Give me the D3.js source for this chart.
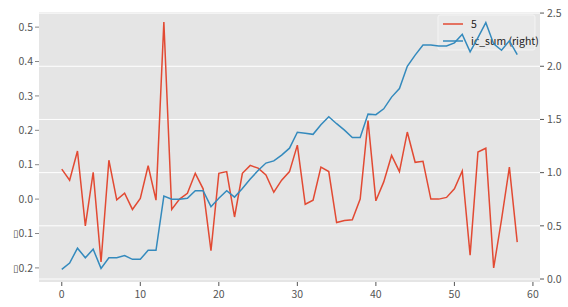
<!DOCTYPE html>
<html>
<head>
<meta charset="utf-8">
<script src="https://cdn.jsdelivr.net/npm/d3@7"></script>
<style>
  body { margin: 0; background: #fff; }
  text { font-family: "Noto Sans CJK SC", "Noto Sans", sans-serif; }
</style>
</head>
<body>
<svg id="chart" width="568" height="307"></svg>
<script>
// series "5" (left axis)
const series5 = [
  0.087, 0.055, 0.14, -0.078, 0.078, -0.183, 0.113, -0.002, 0.017, -0.03,
  0.002, 0.097, -0.003, 0.515, -0.03, 0.0, 0.017, 0.075, 0.03, -0.15,
  0.075, 0.08, -0.052, 0.075, 0.098, 0.09, 0.07, 0.02, 0.055, 0.08,
  0.157, -0.015, -0.003, 0.093, 0.08, -0.068, -0.062, -0.06, 0.0, 0.228,
  -0.005, 0.05, 0.127, 0.08, 0.195, 0.107, 0.11, 0.0, 0.0, 0.005,
  0.03, 0.082, -0.163, 0.137, 0.148, -0.2, -0.06, 0.093, -0.125
];
// ic_sum (right axis)
const icSum = [
  0.09, 0.15, 0.29, 0.20, 0.28, 0.10, 0.20, 0.20, 0.22, 0.185,
  0.185, 0.27, 0.27, 0.78, 0.75, 0.75, 0.76, 0.83, 0.83, 0.68,
  0.76, 0.83, 0.77, 0.85, 0.94, 1.02, 1.09, 1.11, 1.165, 1.23,
  1.38, 1.37, 1.36, 1.45, 1.525, 1.46, 1.40, 1.33, 1.33, 1.55,
  1.545, 1.60, 1.71, 1.79, 2.0, 2.105, 2.2, 2.2, 2.19, 2.19,
  2.22, 2.30, 2.135, 2.27, 2.41, 2.21, 2.15, 2.24, 2.11
];
const xTicks = [0, 10, 20, 30, 40, 50, 60];
const leftTicks = [-0.2, -0.1, 0.0, 0.1, 0.2, 0.3, 0.4, 0.5];
const rightTicks = [0.0, 0.5, 1.0, 1.5, 2.0, 2.5];
const legendNames = ["5", "ic_sum (right)"];

const m = { left: 39, right: 540, top: 12, bottom: 282 };
const red = "#E24A33", blue = "#348ABD";

const svg = d3.select("#chart");

const x = d3.scaleLinear().domain([-2.9, 60.9]).range([m.left, m.right]);
const yL = d3.scaleLinear().domain([-0.241, 0.544]).range([m.bottom, m.top]);
const yR = d3.scaleLinear().domain([-0.028, 2.51]).range([m.bottom, m.top]);

svg.append("rect")
  .attr("x", m.left).attr("y", m.top)
  .attr("width", m.right - m.left).attr("height", m.bottom - m.top)
  .attr("fill", "#E5E5E5");

// horizontal grid from the right axis
svg.append("g")
  .selectAll("line")
  .data(rightTicks)
  .join("line")
  .attr("x1", m.left).attr("x2", m.right)
  .attr("y1", d => yR(d)).attr("y2", d => yR(d))
  .attr("stroke", "#fff").attr("stroke-width", 1);

// left axis (missing minus glyph shows as a box in the original)
const gL = svg.append("g");
gL.selectAll("line")
  .data(leftTicks)
  .join("line")
  .attr("x1", m.left - 4).attr("x2", m.left)
  .attr("y1", d => yL(d)).attr("y2", d => yL(d))
  .attr("stroke", "#888");
const lt = gL.selectAll("text")
  .data(leftTicks)
  .join("text")
  .attr("x", m.left - 6)
  .attr("y", d => yL(d))
  .attr("dy", "0.35em")
  .attr("text-anchor", "end")
  .attr("font-size", 10.5)
  .attr("fill", "#555");
lt.filter(d => d < 0).append("tspan")
  .attr("font-size", 10)
  .attr("font-family", "DejaVu Sans")
  .text("\u25AF");
lt.append("tspan").text(d => d3.format(".1f")(Math.abs(d)));

// right axis
const gR = svg.append("g");
gR.selectAll("line")
  .data(rightTicks)
  .join("line")
  .attr("x1", m.right).attr("x2", m.right + 4)
  .attr("y1", d => yR(d)).attr("y2", d => yR(d))
  .attr("stroke", "#555");
gR.selectAll("text")
  .data(rightTicks)
  .join("text")
  .attr("x", m.right + 7)
  .attr("y", d => yR(d))
  .attr("dy", "0.35em")
  .attr("font-size", 10.5)
  .attr("fill", "#555")
  .text(d => d3.format(".1f")(d));

// x axis
const gX = svg.append("g");
gX.selectAll("line")
  .data(xTicks)
  .join("line")
  .attr("x1", d => x(d)).attr("x2", d => x(d))
  .attr("y1", m.bottom).attr("y2", m.bottom + 4)
  .attr("stroke", "#555");
gX.selectAll("text")
  .data(xTicks)
  .join("text")
  .attr("x", d => x(d))
  .attr("y", m.bottom + 12)
  .attr("dy", "0.35em")
  .attr("text-anchor", "middle")
  .attr("font-size", 10.5)
  .attr("fill", "#555")
  .text(d => d);

const line = yScale => d3.line().x((d, i) => x(i)).y(d => yScale(d));

svg.append("path")
  .datum(series5)
  .attr("d", line(yL))
  .attr("fill", "none")
  .attr("stroke", red)
  .attr("stroke-width", 1.5);

// legend (sits on the left axes, below the right series)
const lg = svg.append("g").attr("transform", "translate(438,15)");
lg.append("rect")
  .attr("width", 97).attr("height", 35)
  .attr("fill", "#E9E9E9").attr("stroke", "#f4f4f4")
  .attr("rx", 2);
lg.selectAll("line")
  .data(legendNames)
  .join("line")
  .attr("x1", 5).attr("x2", 25)
  .attr("y1", (d, i) => 9 + i * 17).attr("y2", (d, i) => 9 + i * 17)
  .attr("stroke", (d, i) => i ? blue : red)
  .attr("stroke-width", 1.5);
lg.selectAll("text")
  .data(legendNames)
  .join("text")
  .attr("x", 33)
  .attr("y", (d, i) => 9 + i * 17)
  .attr("dy", "0.35em")
  .attr("font-size", 10.5)
  .attr("fill", "#222")
  .text(d => d);

svg.append("path")
  .datum(icSum)
  .attr("d", line(yR))
  .attr("fill", "none")
  .attr("stroke", blue)
  .attr("stroke-width", 1.5);
</script>
</body>
</html>
